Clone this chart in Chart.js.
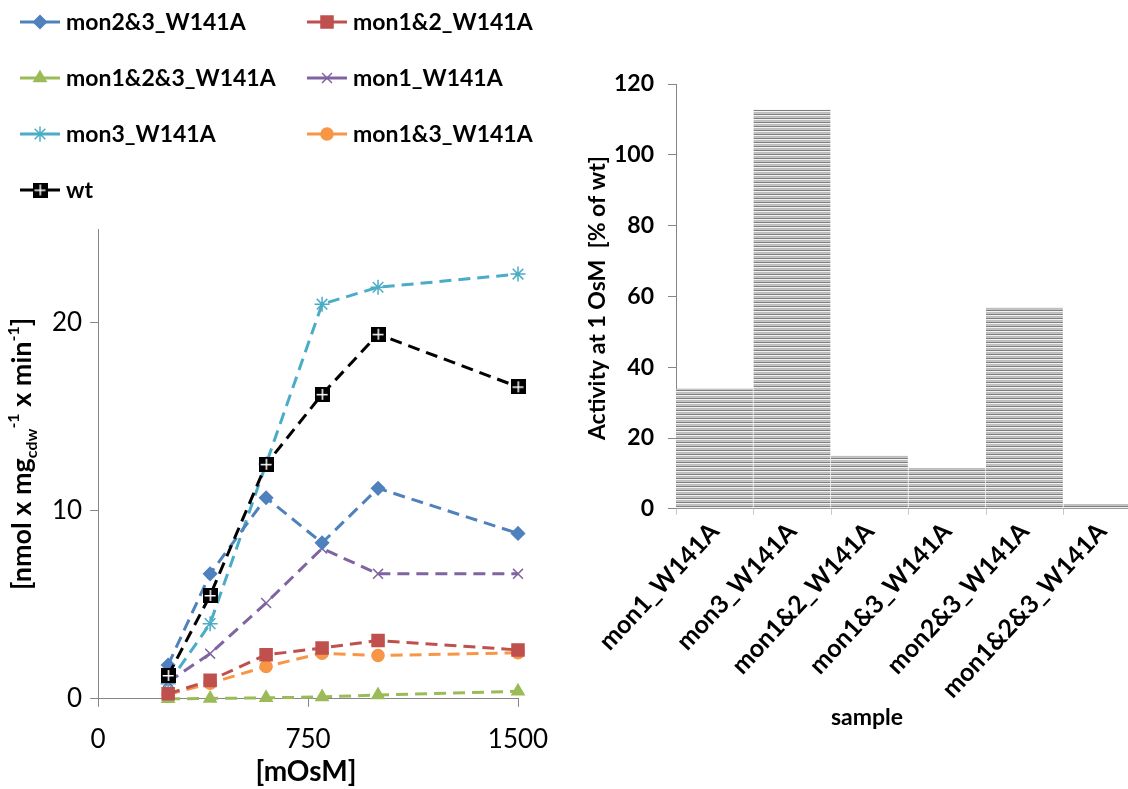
<!DOCTYPE html>
<html>
<head>
<meta charset="utf-8">
<script src="https://cdn.jsdelivr.net/npm/chart.js@4.4.1/dist/chart.umd.min.js"></script>
<style>
  html, body { margin: 0; padding: 0; background: #fff; overflow: hidden; }
  body { width: 1128px; height: 789px; position: relative; }
  #lineChart { position: absolute; left: 0; top: 0; }
  #barChart { position: absolute; left: 560px; top: 0; }
</style>
</head>
<body>
<canvas id="lineChart" width="560" height="789"></canvas>
<canvas id="barChart" width="600" height="789"></canvas>
<script>
// left panel: uptake vs osmolarity
var osmValues = [250, 400, 600, 800, 1000, 1500];
var mon23  = [1.8, 6.65, 10.7, 8.3, 11.2, 8.8];
var mon12  = [0.27, 0.98, 2.34, 2.7, 3.1, 2.6];
var mon123 = [0.0, 0.02, 0.05, 0.1, 0.2, 0.4];
var mon1   = [0.9, 2.4, 5.1, 8.0, 6.65, 6.65];
var mon3   = [0.8, 4.0, 12.5, 21.0, 21.9, 22.6];
var mon13  = [0.23, 0.83, 1.72, 2.43, 2.3, 2.45];
var wt     = [1.24, 5.5, 12.48, 16.2, 19.4, 16.6];
var osmTicks = [0, 750, 1500];
var rateTicks = [0, 10, 20];

// right panel: activity at 1 OsM
var samples = ["mon1_W141A", "mon3_W141A", "mon1&2_W141A", "mon1&3_W141A", "mon2&3_W141A", "mon1&2&3_W141A"];
var activity = [34, 112.7, 15.1, 11.6, 57, 1.4];
var activityTicks = [0, 20, 40, 60, 80, 100, 120];

Chart.defaults.font.family = "Lato";
Chart.defaults.color = "#000";

var axisGray = "#868686";

// black square with a white cross, used for wt
var wtMark = document.createElement("canvas");
wtMark.width = 15; wtMark.height = 15;
var mc = wtMark.getContext("2d");
mc.fillStyle = "#000"; mc.fillRect(0, 0, 15, 15);
mc.fillStyle = "#fff"; mc.fillRect(7, 2, 1.5, 11); mc.fillRect(2, 7, 11, 1.5);

function points(ys) {
    return osmValues.map(function (x, i) { return { x: x, y: ys[i] }; });
}

function series(label, ys, color, style, radius, order) {
    return {
        label: label,
        data: points(ys),
        borderColor: color,
        backgroundColor: color,
        pointBackgroundColor: color,
        pointBorderColor: color,
        borderWidth: 3,
        borderDash: [12, 7],
        pointStyle: style,
        pointRadius: radius,
        pointHoverRadius: radius,
        pointBorderWidth: 1.5,
        tension: 0,
        clip: false,
        order: order || 0
    };
}

var legendGrid = {
    id: "legendGrid",
    afterDraw: function (chart, args, o) {
        if (!o.show) return;
        var ctx = chart.ctx;
        ctx.save();
        chart.data.datasets.forEach(function (ds, i) {
            var x = o.left + (i % 2) * o.colWidth;
            var y = o.top + Math.floor(i / 2) * o.rowHeight;
            ctx.setLineDash([]);
            ctx.strokeStyle = ds.borderColor;
            ctx.lineWidth = 3;
            ctx.beginPath(); ctx.moveTo(x, y); ctx.lineTo(x + o.lineLen, y); ctx.stroke();
            ctx.fillStyle = ds.pointBackgroundColor;
            ctx.strokeStyle = ds.pointBorderColor;
            ctx.lineWidth = ds.pointBorderWidth;
            Chart.helpers.drawPoint(ctx, { pointStyle: ds.pointStyle, radius: ds.pointRadius, rotation: 0, borderWidth: ds.pointBorderWidth }, x + o.lineLen / 2, y);
            ctx.fillStyle = "#000";
            ctx.font = "bold " + o.size + "px Lato";
            ctx.textBaseline = "middle";
            ctx.fillText(ds.label, x + o.lineLen + o.gap, y + 1);
        });
        ctx.restore();
    }
};

// rotated axis title made of pieces (for sub/superscripts)
var richTitle = {
    id: "richTitle",
    afterDraw: function (chart, args, o) {
        if (!o.parts) return;
        var ctx = chart.ctx, a = chart.chartArea;
        ctx.save();
        ctx.translate(o.x, (a.top + a.bottom) / 2 + o.dy);
        ctx.rotate(-Math.PI / 2);
        var total = 0;
        o.parts.forEach(function (p) {
            ctx.font = "bold " + p.size + "px Lato";
            p.w = ctx.measureText(p.text).width;
            total += p.w;
        });
        var x = -total / 2;
        ctx.fillStyle = "#000";
        ctx.textBaseline = "alphabetic";
        o.parts.forEach(function (p) {
            ctx.font = "bold " + p.size + "px Lato";
            ctx.fillText(p.text, x, p.shift);
            x += p.w;
        });
        ctx.restore();
    }
};

var plainText = {
    id: "plainText",
    afterDraw: function (chart, args, o) {
        if (!o.items) return;
        var ctx = chart.ctx;
        o.items.forEach(function (t) {
            ctx.save();
            ctx.translate(t.x, t.y);
            if (t.rotate) ctx.rotate(t.rotate);
            ctx.font = t.font;
            ctx.fillStyle = "#000";
            ctx.textAlign = "center";
            ctx.textBaseline = "middle";
            ctx.fillText(t.text, 0, 0);
            ctx.restore();
        });
    }
};

function noEdgePadding(s) { s.paddingLeft = 0; s.paddingRight = 0; }

new Chart("lineChart", {
    type: "line",
    data: {
        datasets: [
            series("mon2&3_W141A", mon23, "#4F81BD", "rectRot", 6.5),
            series("mon1&2_W141A", mon12, "#C0504D", "rect", 8.5),
            series("mon1&2&3_W141A", mon123, "#9BBB59", "triangle", 7),
            series("mon1_W141A", mon1, "#8064A2", "crossRot", 7),
            series("mon3_W141A", mon3, "#4BACC6", "star", 7.5),
            series("mon1&3_W141A", mon13, "#F79646", "circle", 6),
            series("wt", wt, "#000000", wtMark, 7, -1)
        ]
    },
    plugins: [legendGrid, richTitle, plainText],
    options: {
        responsive: false,
        animation: false,
        events: [],
        layout: { padding: { top: 229, left: 44, right: 42, bottom: 17 } },
        plugins: {
            legend: { display: false },
            tooltip: { enabled: false },
            legendGrid: { show: true, left: 20, top: 22, colWidth: 287, rowHeight: 56, lineLen: 40, gap: 6, size: 23 },
            richTitle: {
                x: 31, dy: -10,
                parts: [
                    { text: "[nmol x mg", size: 27, shift: 0 },
                    { text: "cdw", size: 16, shift: 6 },
                    { text: "-1", size: 16, shift: -12 },
                    { text: " x min", size: 27, shift: 0 },
                    { text: "-1", size: 16, shift: -12 },
                    { text: "]", size: 27, shift: 0 }
                ]
            },
            plainText: { items: [{ text: "[mOsM]", x: 306, y: 772, font: "bold 28px Lato" }] }
        },
        scales: {
            x: {
                type: "linear", min: 0, max: 1500,
                afterBuildTicks: function (s) { s.ticks = osmTicks.map(function (v) { return { value: v }; }); },
                afterFit: noEdgePadding,
                grid: { drawOnChartArea: false, drawTicks: true, tickLength: 8, color: axisGray },
                border: { color: axisGray, width: 1 },
                ticks: { font: { size: 26 }, padding: 17, maxRotation: 0, callback: function (v) { return String(v); } }
            },
            y: {
                type: "linear", min: 0, max: 25,
                afterBuildTicks: function (s) { s.ticks = rateTicks.map(function (v) { return { value: v }; }); },
                grid: { drawOnChartArea: false, drawTicks: true, tickLength: 8, color: axisGray },
                border: { color: axisGray, width: 1 },
                ticks: { font: { size: 26 }, padding: 8 }
            }
        }
    }
});

// horizontal line fill for bars
var tile = document.createElement("canvas");
tile.width = 4; tile.height = 4;
var tc = tile.getContext("2d");
var rows = ["#bdbdbd", "#c4c4c4", "#7f7f7f", "#f2f2f2"];
rows.forEach(function (c, i) { tc.fillStyle = c; tc.fillRect(0, i, 4, 1); });
var stripes = document.getElementById("barChart").getContext("2d").createPattern(tile, "repeat");

new Chart("barChart", {
    type: "bar",
    data: {
        labels: samples,
        datasets: [{
            data: activity,
            backgroundColor: stripes,
            borderColor: "#ffffff",
            borderWidth: { top: 0, right: 1, bottom: 0, left: 0 },
            borderSkipped: "start",
            barPercentage: 1,
            categoryPercentage: 1
        }]
    },
    plugins: [plainText],
    options: {
        responsive: false,
        animation: false,
        events: [],
        layout: { padding: { top: 84, left: 40, right: 19, bottom: 83 } },
        plugins: {
            legend: { display: false },
            tooltip: { enabled: false },
            plainText: {
                items: [
                    { text: "sample", x: 307, y: 718, font: "bold 23px Lato" },
                    { text: "Activity at 1 OsM  [% of wt]", x: 38, y: 298, rotate: -Math.PI / 2, font: "bold 23px Lato" }
                ]
            }
        },
        scales: {
            x: {
                afterFit: noEdgePadding,
                grid: { drawOnChartArea: false, drawTicks: true, tickLength: 6, color: "#c8c8c8" },
                border: { color: axisGray, width: 1 },
                ticks: { font: { size: 25, weight: "bold" }, minRotation: 47, maxRotation: 47, autoSkip: false, padding: 2 }
            },
            y: {
                min: 0, max: 120,
                afterBuildTicks: function (s) { s.ticks = activityTicks.map(function (v) { return { value: v }; }); },
                grid: { drawOnChartArea: false, drawTicks: true, tickLength: 8, color: axisGray },
                border: { color: axisGray, width: 1 },
                ticks: { font: { size: 23, weight: "bold" }, padding: 14 }
            }
        }
    }
});
</script>
</body>
</html>
